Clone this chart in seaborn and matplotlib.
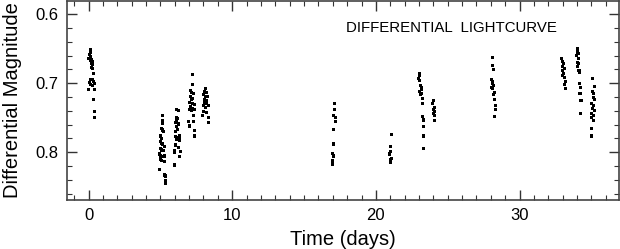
import numpy as np
import pandas as pd
import matplotlib
matplotlib.use("Agg")
import matplotlib.pyplot as plt
import seaborn as sns
from matplotlib.ticker import MultipleLocator

time_days = [
    # night 0
    0.14, 0.12, 0.07, 0.16, 0.02, 0.21, 0.12, 0.26, 0.19, 0.28, 0.21, 0.30, 0.37,
    0.16, 0.26, 0.35, 0.05, 0.42, 0.12, 0.30, 0.00, 0.40, 0.37, 0.40, 0.42,
    # night 5
    5.15, 5.13, 5.17, 5.06, 5.13, 5.20, 5.01, 5.10, 4.99, 5.06, 5.17, 4.99, 5.29,
    5.10, 5.22, 4.94, 5.04, 5.17, 4.99, 5.10, 5.27, 5.31, 4.92, 5.29, 5.38, 5.34, 5.36,
    # night 6
    6.15, 6.26, 6.10, 6.22, 6.15, 6.06, 6.26, 6.13, 6.19, 6.08, 6.31, 6.03, 6.22,
    6.15, 6.33, 6.06, 6.29, 6.01, 5.99, 6.38, 6.33, 5.96,
    # night 7
    7.22, 7.26, 7.12, 7.19, 7.31, 7.08, 7.24, 7.15, 7.03, 7.22, 7.36, 7.10, 7.26,
    7.05, 7.19, 7.38, 7.31, 6.98, 7.29, 7.01, 7.38, 7.38,
    # night 8
    8.17, 8.07, 8.24, 8.00, 8.14, 8.28, 8.05, 8.19, 8.10, 8.24, 8.03, 8.33, 8.14,
    8.00, 8.19, 7.96, 8.35, 8.38,
    # night 17
    17.09, 17.09, 17.05, 17.17, 17.19, 17.07, 17.05, 16.98, 17.03, 16.98, 17.00,
    # night 21
    21.09, 21.04, 21.02, 20.97, 21.07, 21.02, 21.04,
    # night 23
    23.01, 23.04, 22.99, 23.06, 23.08, 23.15, 23.17, 23.04, 23.20, 23.13, 23.24,
    23.27, 23.27, 23.29, 23.31, 23.33, 23.33,
    # night 24
    23.99, 23.96, 24.05, 24.01, 24.10, 24.03, 24.08, 24.10,
    # night 28
    28.14, 28.12, 28.16, 28.07, 28.14, 28.09, 28.19, 28.05, 28.12, 28.23, 28.16,
    28.28, 28.30, 28.32, 28.28,
    # night 33
    32.94, 32.99, 33.06, 32.96, 33.10, 33.01, 33.08, 32.99, 33.13, 33.17, 33.15, 33.20,
    # night 34
    34.01, 34.03, 34.06, 33.99, 34.08, 34.01, 34.10, 34.03, 34.13, 34.17, 34.15,
    34.22, 34.20, 34.27, 34.24,
    # night 35
    35.10, 35.22, 35.05, 35.17, 35.12, 35.24, 35.01, 35.15, 35.08, 35.19, 35.03,
    35.12, 34.98, 35.15, 35.03, 35.01,
]

diff_mag = [
    # night 0
    0.6517, 0.6556, 0.6590, 0.6614, 0.6638, 0.6652, 0.6672, 0.6687, 0.6710, 0.6735,
    0.6768, 0.6783, 0.6855, 0.6952, 0.6952, 0.6977, 0.6986, 0.7000, 0.7025, 0.7039,
    0.7097, 0.7088, 0.7232, 0.7412, 0.7498,
    # night 5
    0.7474, 0.7542, 0.7580, 0.7653, 0.7677, 0.7701, 0.7764, 0.7797, 0.7846, 0.7870,
    0.7880, 0.7942, 0.7919, 0.7967, 0.7977, 0.8025, 0.8054, 0.8064, 0.8102, 0.8122,
    0.8054, 0.8136, 0.8246, 0.8329, 0.8343, 0.8412, 0.8449,
    # night 6
    0.7387, 0.7397, 0.7493, 0.7507, 0.7542, 0.7571, 0.7590, 0.7629, 0.7667, 0.7701,
    0.7764, 0.7774, 0.7783, 0.7812, 0.7822, 0.7894, 0.7928, 0.7977, 0.8006, 0.7991,
    0.8064, 0.8184,
    # night 7
    0.6880, 0.7025, 0.7112, 0.7136, 0.7155, 0.7194, 0.7217, 0.7242, 0.7281, 0.7290,
    0.7314, 0.7339, 0.7362, 0.7377, 0.7397, 0.7387, 0.7474, 0.7557, 0.7557, 0.7619,
    0.7687, 0.7764,
    # night 8
    0.7078, 0.7122, 0.7136, 0.7170, 0.7194, 0.7194, 0.7232, 0.7252, 0.7281, 0.7300,
    0.7319, 0.7329, 0.7348, 0.7412, 0.7426, 0.7474, 0.7493, 0.7565,
    # night 17
    0.7300, 0.7387, 0.7469, 0.7493, 0.7556, 0.7667, 0.7880, 0.8015, 0.8054, 0.8121,
    0.8169,
    # night 21
    0.7749, 0.7918, 0.7991, 0.8025, 0.8088, 0.8112, 0.8150,
    # night 23
    0.6855, 0.6894, 0.6928, 0.6962, 0.7039, 0.7058, 0.7097, 0.7121, 0.7145, 0.7170,
    0.7217, 0.7290, 0.7484, 0.7532, 0.7629, 0.7764, 0.7942,
    # night 24
    0.7252, 0.7300, 0.7348, 0.7377, 0.7411, 0.7435, 0.7474, 0.7542,
    # night 28
    0.6629, 0.6749, 0.6807, 0.6952, 0.6976, 0.7010, 0.7039, 0.7058, 0.7078, 0.7136,
    0.7170, 0.7232, 0.7329, 0.7377, 0.7484,
    # night 33
    0.6638, 0.6686, 0.6720, 0.6759, 0.6783, 0.6817, 0.6855, 0.6894, 0.6913, 0.6976,
    0.7025, 0.7072,
    # night 34
    0.6503, 0.6542, 0.6575, 0.6604, 0.6638, 0.6701, 0.6720, 0.6759, 0.6817, 0.6846,
    0.7000, 0.7058, 0.7145, 0.7252, 0.7435,
    # night 35
    0.6928, 0.7049, 0.7121, 0.7155, 0.7203, 0.7242, 0.7290, 0.7329, 0.7362, 0.7397,
    0.7435, 0.7474, 0.7493, 0.7542, 0.7652, 0.7764,
]

df = pd.DataFrame({"time": time_days, "mag": diff_mag})

sns.set_style("ticks")
plt.rcParams["font.family"] = ["Liberation Sans", "DejaVu Sans"]
plt.rcParams["text.color"] = "black"
plt.rcParams["axes.labelcolor"] = "black"

fig = plt.figure(figsize=(6.2, 2.49), dpi=100)
ax = fig.add_axes([0.108, 0.197, 0.890, 0.799])

sns.scatterplot(data=df, x="time", y="mag", ax=ax, marker="s", s=5,
                color="black", linewidth=0, edgecolor="none")

ax.set_xlim(-1.5, 36.9)
ax.set_ylim(0.869, 0.581)

ax.xaxis.set_major_locator(MultipleLocator(10))
ax.xaxis.set_minor_locator(MultipleLocator(1))
ax.yaxis.set_major_locator(MultipleLocator(0.1))
ax.yaxis.set_minor_locator(MultipleLocator(0.02))
ax.yaxis.set_major_formatter(matplotlib.ticker.FormatStrFormatter("%.1f"))

ax.tick_params(which="both", direction="in", top=True, right=True,
               color="#333333", labelcolor="black", labelsize=12)
ax.tick_params(which="major", length=7, width=1.0, pad=6)
ax.tick_params(which="minor", length=3.6, width=0.8)

for sp in ax.spines.values():
    sp.set_color("#444444")
    sp.set_linewidth(1.2)

ax.set_xlabel("Time (days)", fontsize=14.5, labelpad=5)
ax.set_ylabel("Differential Magnitude", fontsize=14.5, labelpad=10)

ax.text(0.696, 0.862, "DIFFERENTIAL  LIGHTCURVE", transform=ax.transAxes,
        ha="center", va="center", fontsize=10.8)

fig.savefig("out.png", dpi=100)
